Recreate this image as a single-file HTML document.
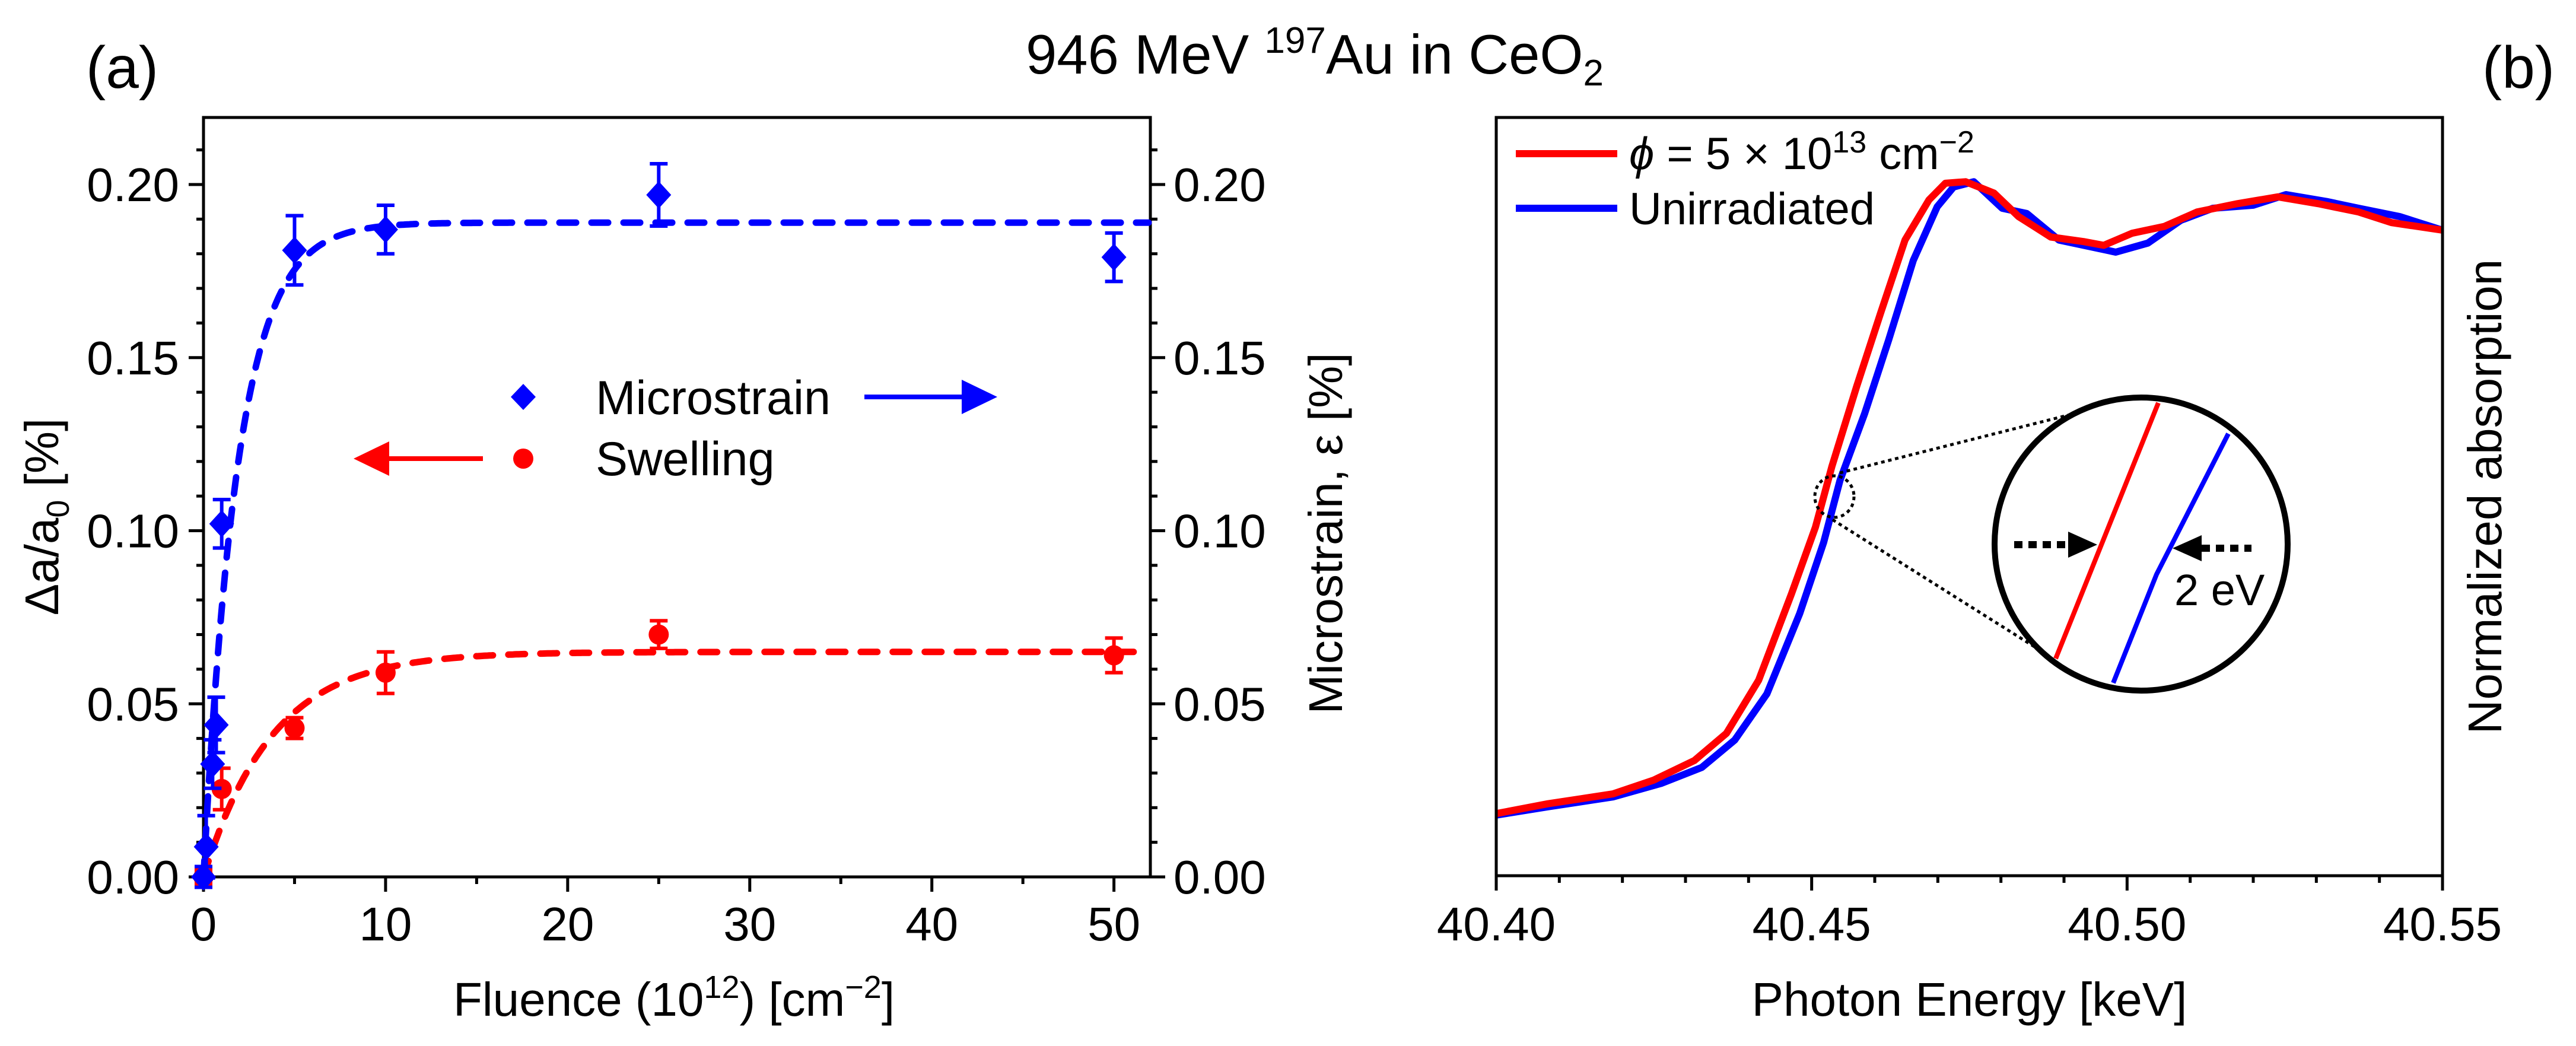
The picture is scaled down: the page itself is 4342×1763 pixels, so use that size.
<!DOCTYPE html>
<html><head><meta charset="utf-8"><style>
html,body{margin:0;padding:0;background:#fff;}
svg{display:block;font-family:"Liberation Sans",Arial,sans-serif;}
</style></head><body>
<svg id="fig" width="4342" height="1763" viewBox="0 0 4342 1763" xmlns="http://www.w3.org/2000/svg">
<rect width="4342" height="1763" fill="#fff"/>
<text x="206" y="148" font-size="100" text-anchor="middle">(a)</text>
<text x="4245" y="148" font-size="100" text-anchor="middle">(b)</text>
<text x="2216" y="124" font-size="94" text-anchor="middle">946 MeV <tspan dy="-35" font-size="62">197</tspan><tspan dy="35">Au in CeO</tspan><tspan dy="20" font-size="62">2</tspan></text>
<g id="pa"></g>
<g id="pb"></g>
</svg>
<script>
// ---------- Panel (a) data ----------
const aXTicks = [0,10,20,30,40,50];
const aYTicks = [0.00,0.05,0.10,0.15,0.20];
const strainX = [0, 0.15, 0.5, 0.7, 1, 5, 10, 25, 50];
const strainY = [0, 0.0087, 0.0326, 0.0439, 0.102, 0.181, 0.187, 0.197, 0.179];
const strainErr = [0.003, 0.009, 0.007, 0.008, 0.007, 0.010, 0.007, 0.009, 0.007];
const swellX = [0, 1, 5, 10, 25, 50];
const swellY = [0, 0.0254, 0.043, 0.059, 0.070, 0.064];
const swellErr = [0.002, 0.006, 0.003, 0.006, 0.004, 0.005];
const strainFitA = [0.189], strainFitTau = [1.9];
const swellFitA = [0.065], swellFitTau = [3.8];
// ---------- Panel (b) data ----------
const bXTicks = [40.40,40.45,40.50,40.55];
const irrE = [40.400,40.4082,40.4185,40.4249,40.4314,40.4365,40.4416,40.4468,40.4506,40.4532,40.4571,40.4609,40.4648,40.4686,40.4712,40.4744,40.4789,40.4828,40.4879,40.4931,40.4963,40.5008,40.5059,40.5111,40.5175,40.5239,40.5303,40.5367,40.5419,40.55];
const irrV = [0.082,0.095,0.108,0.126,0.152,0.188,0.258,0.372,0.460,0.540,0.645,0.742,0.839,0.892,0.914,0.916,0.901,0.870,0.843,0.837,0.832,0.848,0.857,0.876,0.887,0.896,0.887,0.876,0.862,0.852];
const unE = [40.400,40.4082,40.4185,40.4262,40.4326,40.4378,40.4429,40.4481,40.4519,40.4545,40.4584,40.4622,40.4661,40.4699,40.4725,40.4757,40.4802,40.4841,40.4892,40.4943,40.4982,40.5033,40.5085,40.5136,40.5200,40.5252,40.5316,40.5367,40.5432,40.55];
const unV = [0.080,0.091,0.104,0.122,0.143,0.179,0.240,0.346,0.440,0.522,0.610,0.707,0.812,0.883,0.909,0.916,0.881,0.874,0.839,0.830,0.823,0.835,0.865,0.881,0.885,0.899,0.890,0.881,0.870,0.852];

const NS='http://www.w3.org/2000/svg';
function mk(parent,tag,attrs,txt){const e=document.createElementNS(NS,tag);for(const k in attrs)e.setAttribute(k,attrs[k]);if(txt!==undefined)e.textContent=txt;parent.appendChild(e);return e;}

// ---- Panel a ----
const pa=document.getElementById('pa');
const aL=343,aR=1939,aT=198,aB=1478;
const ax=v=>aL+(v-0)*(aR-aL)/52;
const ay=v=>aB-v*5835;
let el;
el=mk(pa,'rect',{x:aL,y:aT,width:aR-aL,height:aB-aT,fill:'none',stroke:'#000','stroke-width':5});


for(let v=0;v<=52;v+=5){const maj=v%10===0;
 el=mk(pa,'line',{x1:ax(v),x2:ax(v),y1:aB,y2:aB+(maj?25:12),stroke:'#000','stroke-width':5});
 
 }
aXTicks.forEach(v=>{el=mk(pa,'text',{x:ax(v),y:1585,'font-size':80,'text-anchor':'middle'},String(v));
 
 });
for(let i=0;i<=21;i++){const v=i/100,maj=i%5===0;
 el=mk(pa,'line',{x1:aL,x2:aL-(maj?25:12),y1:ay(v),y2:ay(v),stroke:'#000','stroke-width':5});
 
 
 el=mk(pa,'line',{x1:aR,x2:aR+(maj?25:12),y1:ay(v),y2:ay(v),stroke:'#000','stroke-width':5});
 
 }
aYTicks.forEach(v=>{
 el=mk(pa,'text',{x:302,y:ay(v)+28,'font-size':80,'text-anchor':'end'},v.toFixed(2));
 
 
 el=mk(pa,'text',{x:1978,y:ay(v)+28,'font-size':80,'text-anchor':'start'},v.toFixed(2));
 
 });
el=mk(pa,'text',{x:1136,y:1712,'font-size':80,'text-anchor':'middle'});
el.innerHTML='Fluence (10<tspan dy="-30" font-size="54">12</tspan><tspan dy="30">) [cm</tspan><tspan dy="-30" font-size="54">−2</tspan><tspan dy="30">]</tspan>';


el=mk(pa,'text',{x:0,y:0,'font-size':80,'text-anchor':'middle',transform:'translate(98,871) rotate(-90)'});
el.innerHTML='Δa/a<tspan dy="18" font-size="54">0</tspan><tspan dy="-18"> [%]</tspan>';


el=mk(pa,'text',{x:0,y:0,'font-size':80,'text-anchor':'middle',transform:'translate(2262,899) rotate(-90)'},'Microstrain, ε [%]');


function fitPath(A,tau){let d='';for(let x=0;x<=52;x+=0.1){const y=A*(1-Math.exp(-x/tau));d+=(x===0?'M':'L')+ax(x).toFixed(1)+','+ay(y).toFixed(1);}return d;}
el=mk(pa,'path',{d:fitPath(swellFitA[0],swellFitTau[0]),fill:'none',stroke:'#ff0000','stroke-width':11,'stroke-dasharray':'28 26','stroke-linecap':'round'});


el=mk(pa,'path',{d:fitPath(strainFitA[0],strainFitTau[0]),fill:'none',stroke:'#0000ff','stroke-width':11,'stroke-dasharray':'28 26','stroke-linecap':'round'});


function errbar(x,y,e,col,name){const g=mk(pa,'g',{stroke:col,'stroke-width':6});
 mk(g,'line',{x1:ax(x),x2:ax(x),y1:ay(y-e),y2:ay(y+e)});
 mk(g,'line',{x1:ax(x)-15,x2:ax(x)+15,y1:ay(y-e),y2:ay(y-e)});
 mk(g,'line',{x1:ax(x)-15,x2:ax(x)+15,y1:ay(y+e),y2:ay(y+e)});
 
 }
swellX.forEach((x,i)=>{errbar(x,swellY[i],swellErr[i],'#ff0000','swelling-error-bar');
 el=mk(pa,'circle',{cx:ax(x),cy:ay(swellY[i]),r:17,fill:'#ff0000'});
 
 });
strainX.forEach((x,i)=>{errbar(x,strainY[i],strainErr[i],'#0000ff','microstrain-error-bar');
 const cx=ax(x),cy=ay(strainY[i]);
 el=mk(pa,'polygon',{points:`${cx},${cy-23} ${cx+21},${cy} ${cx},${cy+23} ${cx-21},${cy}`,fill:'#0000ff'});
 
 });
const lg=mk(pa,'g',{});


mk(lg,'polygon',{points:'882,647 903,669 882,691 861,669',fill:'#0000ff'});
mk(lg,'text',{x:1004,y:698,'font-size':81},'Microstrain');
mk(lg,'line',{x1:1457,x2:1625,y1:669,y2:669,stroke:'#0000ff','stroke-width':8});
mk(lg,'polygon',{points:'1621,640 1681,669 1621,698',fill:'#0000ff'});
mk(lg,'circle',{cx:882,cy:773,r:17,fill:'#ff0000'});
mk(lg,'text',{x:1004,y:801,'font-size':81},'Swelling');
mk(lg,'line',{x1:814,x2:650,y1:773,y2:773,stroke:'#ff0000','stroke-width':8});
mk(lg,'polygon',{points:'656,744 596,773 656,802',fill:'#ff0000'});

// ---- Panel b ----
const pb=document.getElementById('pb');
const bL=2522,bR=4117,bT=198,bB=1476;
const bx=e=>bL+(e-40.40)*(bR-bL)/0.15;
const by=v=>bB-v*1277;
for(let i=0;i<=15;i++){const e=40.40+i*0.01,maj=i%5===0;
 el=mk(pb,'line',{x1:bx(e),x2:bx(e),y1:bB,y2:bB+(maj?25:12),stroke:'#000','stroke-width':5});
 
 }
bXTicks.forEach(e=>{el=mk(pb,'text',{x:bx(e),y:1585,'font-size':80,'text-anchor':'middle'},e.toFixed(2));
 
 });
el=mk(pb,'text',{x:(bL+bR)/2,y:1712,'font-size':80,'text-anchor':'middle'},'Photon Energy [keV]');


el=mk(pb,'text',{x:0,y:0,'font-size':80,'text-anchor':'middle',transform:'translate(4216,837) rotate(-90)'},'Normalized absorption');


function linePath(X,Y){return X.map((e,i)=>(i?'L':'M')+bx(e).toFixed(1)+','+by(Y[i]).toFixed(1)).join('');}
el=mk(pb,'path',{d:linePath(unE,unV),fill:'none',stroke:'#0000ff','stroke-width':12,'stroke-linejoin':'round'});


el=mk(pb,'path',{d:linePath(irrE,irrV),fill:'none',stroke:'#ff0000','stroke-width':12,'stroke-linejoin':'round'});


el=mk(pb,'rect',{x:bL,y:bT,width:bR-bL,height:bB-bT,fill:'none',stroke:'#000','stroke-width':5});


const lb=mk(pb,'g',{});


mk(lb,'line',{x1:2555,x2:2726,y1:259,y2:259,stroke:'#ff0000','stroke-width':12});
const t1=mk(lb,'text',{x:2746,y:285,'font-size':76});
t1.innerHTML='<tspan font-style="italic">ϕ</tspan> = 5 × 10<tspan dy="-28" font-size="52">13</tspan><tspan dy="28"> cm</tspan><tspan dy="-28" font-size="52">−2</tspan>';
mk(lb,'line',{x1:2555,x2:2726,y1:351,y2:351,stroke:'#0000ff','stroke-width':12});
mk(lb,'text',{x:2746,y:378,'font-size':76},'Unirradiated');
const ins=mk(pb,'g',{});


mk(ins,'ellipse',{cx:3092,cy:837,rx:33,ry:35,fill:'none',stroke:'#000','stroke-width':5,'stroke-dasharray':'6 6'});
mk(ins,'line',{x1:3101,y1:797,x2:3568,y2:679,stroke:'#000','stroke-width':5,'stroke-dasharray':'6 6'});
mk(ins,'line',{x1:3089,y1:876,x2:3429,y2:1090,stroke:'#000','stroke-width':5,'stroke-dasharray':'6 6'});
mk(ins,'circle',{cx:3609,cy:917,r:247,fill:'#fff',stroke:'#000','stroke-width':10});
mk(ins,'line',{x1:3638,y1:679,x2:3465,y2:1110,stroke:'#ff0000','stroke-width':8});
mk(ins,'polyline',{points:'3756,731 3635,968 3562,1151',fill:'none',stroke:'#0000ff','stroke-width':8});
mk(ins,'line',{x1:3395,y1:918,x2:3490,y2:918,stroke:'#000','stroke-width':12,'stroke-dasharray':'14 10'});
mk(ins,'polygon',{points:'3486,896 3535,918 3486,940',fill:'#000'});
mk(ins,'line',{x1:3711,y1:924,x2:3795,y2:924,stroke:'#000','stroke-width':12,'stroke-dasharray':'14 10'});
mk(ins,'polygon',{points:'3711,902 3662,924 3711,946',fill:'#000'});
mk(ins,'text',{x:3665,y:1020,'font-size':74},'2 eV');
</script>
</body></html>
